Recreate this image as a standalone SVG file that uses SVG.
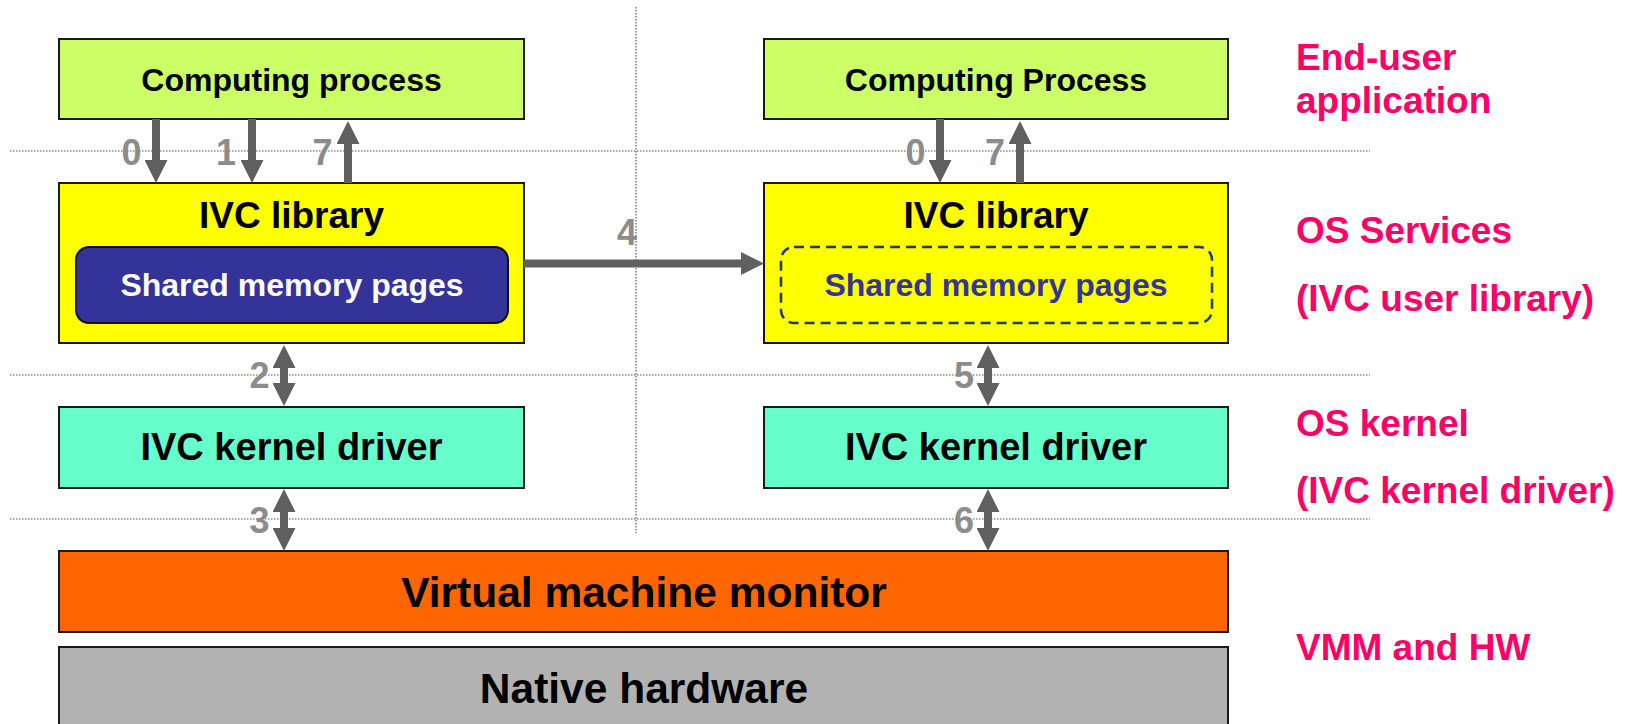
<svg xmlns="http://www.w3.org/2000/svg" width="1626" height="724" viewBox="0 0 1626 724">
  <style>
    .box { stroke: #1a1a1a; stroke-width: 2; }
    .t { font-family: "Liberation Sans", Arial, sans-serif; font-weight: bold; text-anchor: middle; fill: #000; }
    .num { font-family: "Liberation Sans", Arial, sans-serif; font-weight: bold; font-size: 36px; text-anchor: middle; fill: #8c8c8c; }
    .layer { font-family: "Liberation Sans", Arial, sans-serif; font-weight: bold; font-size: 37px; fill: #ff0066; }
    .sep { stroke: #555; stroke-width: 1.2; stroke-dasharray: 1.5 1.5; fill: none; }
    .arr { stroke: #606060; stroke-width: 8; fill: none; }
  </style>
  <defs>
    <marker id="head" markerUnits="userSpaceOnUse" markerWidth="23" markerHeight="23" refX="0" refY="11.5" orient="auto-start-reverse" viewBox="0 0 23 23">
      <path d="M0,0 L23,11.5 L0,23 z" fill="#606060"/>
    </marker>
  </defs>

  <rect width="1626" height="724" fill="#ffffff"/>

  <!-- layer separators -->
  <g id="separators">
    <line class="sep" x1="10" y1="151" x2="1370" y2="151"/>
    <line class="sep" x1="10" y1="375" x2="1370" y2="375"/>
    <line class="sep" x1="10" y1="519" x2="1370" y2="519"/>
    <line class="sep" x1="636" y1="7" x2="636" y2="533"/>
  </g>

  <!-- left stack -->
  <g id="left-process">
    <rect class="box" x="59" y="39" width="465" height="80" fill="#ccff66"/>
    <text class="t" x="291.5" y="91" font-size="32">Computing process</text>
  </g>
  <g id="left-library">
    <rect class="box" x="59" y="183" width="465" height="160" fill="#ffff00"/>
    <text class="t" x="291.5" y="228" font-size="37">IVC library</text>
  </g>
  <g id="left-shared">
    <rect x="76" y="247" width="432" height="76" rx="13" ry="13" fill="#333399" stroke="#111" stroke-width="2"/>
    <text class="t" x="292" y="296" font-size="32" fill="#ffffff" style="fill:#ffffff">Shared memory pages</text>
  </g>
  <g id="left-kernel">
    <rect class="box" x="59" y="407" width="465" height="81" fill="#66ffcc"/>
    <text class="t" x="291.5" y="460" font-size="38">IVC kernel driver</text>
  </g>

  <!-- right stack -->
  <g id="right-process">
    <rect class="box" x="764" y="39" width="464" height="80" fill="#ccff66"/>
    <text class="t" x="996" y="91" font-size="32">Computing Process</text>
  </g>
  <g id="right-library">
    <rect class="box" x="764" y="183" width="464" height="160" fill="#ffff00"/>
    <text class="t" x="996" y="228" font-size="37">IVC library</text>
  </g>
  <g id="right-shared">
    <rect x="781" y="247" width="431" height="76" rx="13" ry="13" fill="none" stroke="#1f3a66" stroke-width="2.5" stroke-dasharray="10 6"/>
    <text class="t" x="996" y="296" font-size="32" style="fill:#333399">Shared memory pages</text>
  </g>
  <g id="right-kernel">
    <rect class="box" x="764" y="407" width="464" height="81" fill="#66ffcc"/>
    <text class="t" x="996" y="460" font-size="38">IVC kernel driver</text>
  </g>

  <!-- shared base layers -->
  <g id="vmm">
    <rect class="box" x="59" y="551" width="1169" height="81" fill="#ff6600"/>
    <text class="t" x="644" y="607" font-size="42.5">Virtual machine monitor</text>
  </g>
  <g id="hardware">
    <rect class="box" x="59" y="647" width="1169" height="90" fill="#b2b2b2"/>
    <text class="t" x="644" y="703" font-size="42.5">Native hardware</text>
  </g>

  <!-- connectors -->
  <g id="connectors">
    <line class="arr" x1="156" y1="119" x2="156" y2="160" marker-end="url(#head)"/>
    <line class="arr" x1="252" y1="119" x2="252" y2="160" marker-end="url(#head)"/>
    <line class="arr" x1="348" y1="183" x2="348" y2="144" marker-end="url(#head)"/>
    <line class="arr" x1="284" y1="368" x2="284" y2="383" marker-start="url(#head)" marker-end="url(#head)"/>
    <line class="arr" x1="284" y1="512" x2="284" y2="528" marker-start="url(#head)" marker-end="url(#head)"/>
    <line class="arr" x1="524" y1="263.5" x2="741" y2="263.5" marker-end="url(#head)"/>
    <line class="arr" x1="940" y1="119" x2="940" y2="160" marker-end="url(#head)"/>
    <line class="arr" x1="1020" y1="183" x2="1020" y2="144" marker-end="url(#head)"/>
    <line class="arr" x1="988" y1="368" x2="988" y2="383" marker-start="url(#head)" marker-end="url(#head)"/>
    <line class="arr" x1="988" y1="512" x2="988" y2="528" marker-start="url(#head)" marker-end="url(#head)"/>
  </g>

  <!-- step numbers -->
  <g id="step-labels">
    <text class="num" x="131.5" y="165">0</text>
    <text class="num" x="226" y="165">1</text>
    <text class="num" x="322.5" y="165">7</text>
    <text class="num" x="259.5" y="388">2</text>
    <text class="num" x="259.5" y="533">3</text>
    <text class="num" x="627" y="245">4</text>
    <text class="num" x="915.5" y="165">0</text>
    <text class="num" x="995" y="165">7</text>
    <text class="num" x="964" y="388">5</text>
    <text class="num" x="964" y="533">6</text>
  </g>

  <!-- layer names -->
  <g id="layer-labels">
    <text class="layer" x="1296" y="70">End-user</text>
    <text class="layer" x="1296" y="113">application</text>
    <text class="layer" x="1296" y="243">OS Services</text>
    <text class="layer" x="1296" y="311">(IVC user library)</text>
    <text class="layer" x="1296" y="436">OS kernel</text>
    <text class="layer" x="1296" y="503">(IVC kernel driver)</text>
    <text class="layer" x="1296" y="660">VMM and HW</text>
  </g>
</svg>
